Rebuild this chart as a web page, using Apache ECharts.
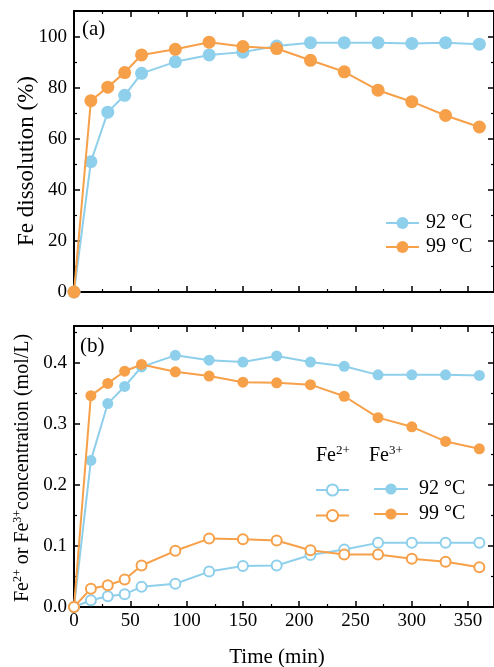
<!DOCTYPE html>
<html><head><meta charset="utf-8">
<script src="https://cdn.jsdelivr.net/npm/echarts@6/dist/echarts.min.js"></script>
<style>html,body{margin:0;padding:0;background:#fff}#c{width:494px;height:667px}</style>
</head><body><div id="c"></div>
<script>
const time = [0, 15, 30, 45, 60, 90, 120, 150, 180, 210, 240, 270, 300, 330, 360];
const diss92 = [0, 51, 70.4, 77, 85.6, 90.1, 92.8, 93.9, 96.3, 97.6, 97.6, 97.6, 97.3, 97.6, 97.0];
const diss99 = [0, 74.9, 80.2, 85.9, 92.8, 95.0, 97.8, 96.1, 95.3, 90.7, 86.2, 79.0, 74.5, 69.1, 64.6];
const fe3_92 = [0, 0.240, 0.333, 0.361, 0.393, 0.412, 0.404, 0.401, 0.411, 0.401, 0.394, 0.380, 0.380, 0.380, 0.379];
const fe3_99 = [0, 0.346, 0.366, 0.386, 0.397, 0.385, 0.378, 0.368, 0.367, 0.364, 0.345, 0.310, 0.295, 0.271, 0.259];
const fe2_92 = [0, 0.011, 0.0175, 0.021, 0.033, 0.038, 0.058, 0.067, 0.068, 0.085, 0.094, 0.105, 0.105, 0.105, 0.105];
const fe2_99 = [0, 0.030, 0.0355, 0.045, 0.068, 0.092, 0.112, 0.111, 0.109, 0.093, 0.086, 0.086, 0.079, 0.074, 0.065];
const tempLabels = ['92 °C', '99 °C'];

const BLUE = '#8ecfeb', ORANGE = '#f7a04a';
const FONT = '"Liberation Serif", "DejaVu Serif", serif';
const pair = (ys) => time.map((t, i) => [t, ys[i]]);

const chart = echarts.init(document.getElementById('c'), null, {renderer: 'canvas'});

function xAx(gi, pos, showLabel) {
  return {
    type: 'value', gridIndex: gi, position: pos, min: 0, max: 373, interval: 50,
    axisLine: {show: true, onZero: false, lineStyle: {color: '#000', width: 2}},
    axisTick: {show: true, inside: true, length: 6, lineStyle: {color: '#000', width: 1.5}},
    minorTick: {show: true, splitNumber: 2, length: 3, lineStyle: {color: '#000', width: 1.2}},
    axisLabel: {show: showLabel, showMaxLabel: false, color: '#000', fontFamily: FONT, fontSize: 19, margin: 5},
    splitLine: {show: false}
  };
}
function yAx(gi, pos, max, interval, showLabel, fmt) {
  return {
    type: 'value', gridIndex: gi, position: pos, min: 0, max: max, interval: interval,
    axisLine: {show: true, onZero: false, lineStyle: {color: '#000', width: 2}},
    axisTick: {show: true, inside: true, length: 6, lineStyle: {color: '#000', width: 1.5}},
    minorTick: {show: true, splitNumber: 2, length: 3, lineStyle: {color: '#000', width: 1.2}},
    axisLabel: {show: showLabel, showMaxLabel: false, color: '#000', fontFamily: FONT, fontSize: 19, margin: 7, formatter: fmt},
    splitLine: {show: false}
  };
}

function line(name, xi, yi, data, color, filled, size, z) {
  return {
    name: name, type: 'line', xAxisIndex: xi, yAxisIndex: yi, data: data,
    symbol: 'circle', symbolSize: size, showSymbol: true, z: z,
    lineStyle: {color: color, width: 2},
    itemStyle: filled ? {color: color, borderColor: color, borderWidth: 0} : {color: '#fff', borderColor: color, borderWidth: 2},
    emphasis: {disabled: true}, animation: false
  };
}

const richSup = {
  b: {fontFamily: FONT, fontSize: 20, fill: '#000'},
  s: {fontFamily: FONT, fontSize: 13, fill: '#000', padding: [0, 0, 10, 0]}
};

const option = {
  animation: false,
  backgroundColor: '#fff',
  grid: [
    {left: 74, top: 11, width: 421, height: 281},
    {left: 74, top: 326, width: 421, height: 281}
  ],
  xAxis: [xAx(0, 'bottom', false), xAx(0, 'top', false), xAx(1, 'bottom', true), xAx(1, 'top', false)],
  yAxis: [
    yAx(0, 'left', 110, 20, true, v => String(v)),
    yAx(0, 'right', 110, 20, false),
    yAx(1, 'left', 0.46, 0.1, true, v => v.toFixed(1)),
    yAx(1, 'right', 0.46, 0.1, false)
  ],
  legend: [
    {
      data: ['d92', 'd99'], orient: 'vertical', left: 380, top: 208, itemGap: 4,
      itemWidth: 33, itemHeight: 15,
      formatter: n => n === 'd92' ? tempLabels[0] : tempLabels[1],
      textStyle: {fontFamily: FONT, fontSize: 20, color: '#000', padding: [0, 0, 0, 2]},
      selectedMode: false
    },
    {
      data: ['o92', 'o99'], orient: 'vertical', left: 310, top: 478, itemGap: 12,
      itemWidth: 33, itemHeight: 14, formatter: () => '',
      textStyle: {fontSize: 1}, selectedMode: false
    },
    {
      data: ['f92', 'f99'], orient: 'vertical', left: 368, top: 474, itemGap: 5,
      itemWidth: 34, itemHeight: 14,
      formatter: n => n === 'f92' ? tempLabels[0] : tempLabels[1],
      textStyle: {fontFamily: FONT, fontSize: 20, color: '#000', padding: [0, 0, 0, 6]},
      selectedMode: false
    }
  ],
  graphic: [
    {type: 'text', left: 82, top: 19, style: {text: '(a)', font: '21px ' + FONT, fill: '#000'}},
    {type: 'text', left: 80, top: 336, style: {text: '(b)', font: '21px ' + FONT, fill: '#000'}},
    {type: 'text', x: 316, y: 444, style: {text: '{b|Fe}{s|2+}', rich: richSup}},
    {type: 'text', x: 369, y: 444, style: {text: '{b|Fe}{s|3+}', rich: richSup}},
    {type: 'text', x: 27, y: 161, rotation: Math.PI / 2, style: {
      text: 'Fe dissolution (%)', font: '23px ' + FONT, fill: '#000', align: 'center', verticalAlign: 'middle'}},
    {type: 'text', x: 23, y: 468, rotation: Math.PI / 2, style: {
      text: '{b|Fe}{s|2+}{b| or Fe}{s|3+}{b|concentration (mol/L)}',
      align: 'center', verticalAlign: 'middle',
      rich: {b: {fontFamily: FONT, fontSize: 20, fill: '#000'}, s: {fontFamily: FONT, fontSize: 12, fill: '#000', padding: [0, 0, 10, 0]}}}},
    {type: 'text', x: 277, y: 657, style: {
      text: 'Time (min)', font: '21px ' + FONT, fill: '#000', align: 'center', verticalAlign: 'middle'}}
  ],
  series: [
    line('d92', 0, 0, pair(diss92), BLUE, true, 13, 3),
    line('d99', 0, 0, pair(diss99), ORANGE, true, 13, 4),
    line('f92', 2, 2, pair(fe3_92), BLUE, true, 11, 3),
    line('f99', 2, 2, pair(fe3_99), ORANGE, true, 11, 4),
    line('o92', 2, 2, pair(fe2_92), BLUE, false, 10, 3),
    line('o99', 2, 2, pair(fe2_99), ORANGE, false, 10, 4)
  ]
};
chart.setOption(option);
</script></body></html>
